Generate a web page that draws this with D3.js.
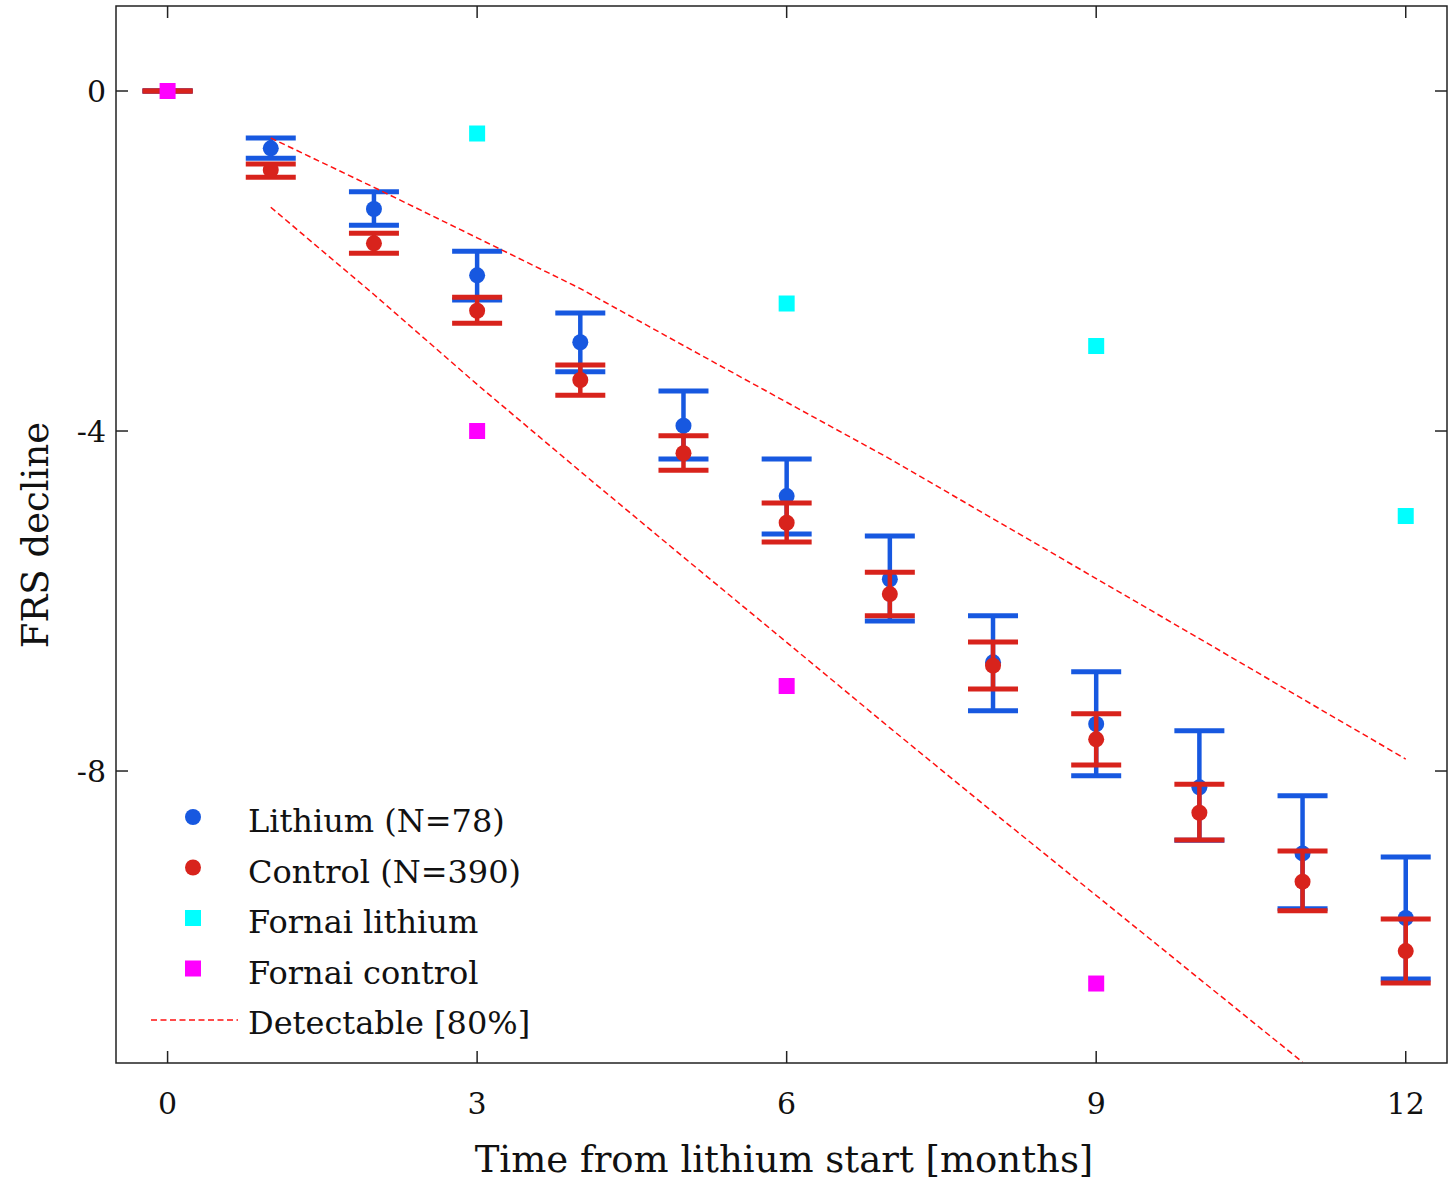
<!DOCTYPE html>
<html lang="en">
<head>
<meta charset="UTF-8">
<title>FRS decline</title>
<style>
  body { margin: 0; background: #fff; }
  svg text { font-family: "DejaVu Serif", serif; fill: #111; }
</style>
</head>
<body>
<svg id="chart" width="1449" height="1183"></svg>
<script src="https://cdn.jsdelivr.net/npm/d3@7"></script>
<script>
// months
var months = [0, 1, 2, 3, 4, 5, 6, 7, 8, 9, 10, 11, 12];

// lithium group (N=78)
var lithiumMean = [0, -0.674, -1.388, -2.168, -2.956, -3.937, -4.765, -5.744, -6.721, -7.447, -8.192, -8.969, -9.729];
var lithiumHigh = [0, -0.553, -1.185, -1.886, -2.612, -3.529, -4.329, -5.235, -6.173, -6.832, -7.526, -8.290, -9.012];
var lithiumLow  = [0, -0.792, -1.580, -2.459, -3.302, -4.329, -5.212, -6.235, -7.290, -8.055, -8.815, -9.620, -10.447];

// control group (N=390)
var controlMean = [0, -0.929, -1.792, -2.585, -3.400, -4.262, -5.079, -5.918, -6.761, -7.627, -8.491, -9.302, -10.118];
var controlHigh = [0, -0.859, -1.674, -2.427, -3.224, -4.055, -4.847, -5.662, -6.482, -7.326, -8.156, -8.941, -9.741];
var controlLow  = [0, -1.015, -1.909, -2.733, -3.580, -4.462, -5.306, -6.173, -7.035, -7.929, -8.812, -9.644, -10.494];

// Fornai reference points
var fornaiMonths = [0, 3, 6, 9, 12];
var fornaiLithium = [null, -0.5, -2.5, -3.0, -5.0];
var fornaiControl = [0, -4.0, -7.0, -10.5, null];

// detectable difference band [80%]
var detectMonths = [1, 2, 3, 4, 5, 6, 7, 8, 9, 10, 11, 12];
var detectUpper = [-0.553, -1.133, -1.727, -2.324, -2.994, -3.662, -4.327, -5.032, -5.736, -6.442, -7.152, -7.859];
var detectLower = [-1.368, -2.394, -3.452, -4.475, -5.484, -6.486, -7.492, -8.484, -9.464, -10.445, -11.425];

var xTicks = [0, 3, 6, 9, 12];
var yTicks = [0, -4, -8];

var legendLabels = ["Lithium (N=78)", "Control (N=390)", "Fornai lithium", "Fornai control", "Detectable [80%]"];

var BLUE = "#1758e0", RED = "#d8231c", CYAN = "#00ffff", MAGENTA = "#ff00ff";

var svg = d3.select("#chart"),
    plotLeft = 116, plotRight = 1447, plotTop = 6, plotBottom = 1063;

var x = d3.scaleLinear().domain([-0.5, 12.4]).range([plotLeft, plotRight]),
    y = d3.scaleLinear().domain([1.0, -11.435]).range([plotTop, plotBottom]);

svg.append("defs").append("clipPath").attr("id", "clip")
  .append("rect")
    .attr("x", plotLeft).attr("y", plotTop)
    .attr("width", plotRight - plotLeft).attr("height", plotBottom - plotTop);

var plot = svg.append("g").attr("clip-path", "url(#clip)");

function errorGroup(means, highs, lows, color) {
  var data = months.map(function(m, i) {
    return { m: m, mean: means[i], hi: highs[i], lo: lows[i] };
  });
  var g = plot.append("g");
  g.selectAll(".stem").data(data).enter().append("line")
    .attr("x1", function(d) { return x(d.m); })
    .attr("x2", function(d) { return x(d.m); })
    .attr("y1", function(d) { return y(d.hi); })
    .attr("y2", function(d) { return y(d.lo); })
    .attr("stroke", color).attr("stroke-width", 4.5);
  ["hi", "lo"].forEach(function(k) {
    g.selectAll(".cap-" + k).data(data).enter().append("line")
      .attr("x1", function(d) { return x(d.m) - 25; })
      .attr("x2", function(d) { return x(d.m) + 25; })
      .attr("y1", function(d) { return y(d[k]); })
      .attr("y2", function(d) { return y(d[k]); })
      .attr("stroke", color).attr("stroke-width", 5);
  });
  g.selectAll("circle").data(data.filter(function(d) { return d.m > 0; })).enter().append("circle")
    .attr("cx", function(d) { return x(d.m); })
    .attr("cy", function(d) { return y(d.mean); })
    .attr("r", 8)
    .attr("fill", color);
}

errorGroup(lithiumMean, lithiumHigh, lithiumLow, BLUE);
errorGroup(controlMean, controlHigh, controlLow, RED);

var line = d3.line()
  .x(function(d) { return x(d[0]); })
  .y(function(d) { return y(d[1]); });

[detectUpper, detectLower].forEach(function(vals) {
  plot.append("path")
    .attr("d", line(vals.map(function(v, i) { return [detectMonths[i], v]; })))
    .attr("fill", "none")
    .attr("stroke", "#ff1010")
    .attr("stroke-width", 1.5)
    .attr("stroke-dasharray", "6,3.5");
});

function squares(vals, color) {
  var data = fornaiMonths.map(function(m, i) { return { m: m, v: vals[i] }; })
    .filter(function(d) { return d.v !== null; });
  plot.selectAll(null).data(data).enter().append("rect")
    .attr("x", function(d) { return x(d.m) - 8; })
    .attr("y", function(d) { return y(d.v) - 8; })
    .attr("width", 16).attr("height", 16)
    .attr("fill", color);
}
squares(fornaiLithium, CYAN);
squares(fornaiControl, MAGENTA);

// frame + ticks (all inward)
svg.append("rect")
  .attr("x", plotLeft).attr("y", plotTop)
  .attr("width", plotRight - plotLeft).attr("height", plotBottom - plotTop)
  .attr("fill", "none").attr("stroke", "#222").attr("stroke-width", 1.5);

var ticks = svg.append("g").attr("stroke", "#222").attr("stroke-width", 1.5);
xTicks.forEach(function(t) {
  ticks.append("line").attr("x1", x(t)).attr("x2", x(t)).attr("y1", plotBottom).attr("y2", plotBottom - 12);
  ticks.append("line").attr("x1", x(t)).attr("x2", x(t)).attr("y1", plotTop).attr("y2", plotTop + 12);
});
yTicks.forEach(function(t) {
  ticks.append("line").attr("x1", plotLeft).attr("x2", plotLeft + 12).attr("y1", y(t)).attr("y2", y(t));
  ticks.append("line").attr("x1", plotRight).attr("x2", plotRight - 12).attr("y1", y(t)).attr("y2", y(t));
});

svg.selectAll(".xlab").data(xTicks).enter().append("text")
  .attr("x", function(d) { return x(d); })
  .attr("y", 1114)
  .attr("text-anchor", "middle")
  .attr("font-size", 30)
  .text(function(d) { return d; });

svg.selectAll(".ylab").data(yTicks).enter().append("text")
  .attr("x", 106)
  .attr("y", function(d) { return y(d) + 11; })
  .attr("text-anchor", "end")
  .attr("font-size", 30)
  .text(function(d) { return d === 0 ? "0" : "-" + Math.abs(d); });

svg.append("text")
  .attr("x", 784).attr("y", 1172)
  .attr("text-anchor", "middle")
  .attr("font-size", 37)
  .text("Time from lithium start [months]");

svg.append("text")
  .attr("transform", "translate(48,535) rotate(-90)")
  .attr("text-anchor", "middle")
  .attr("font-size", 37)
  .text("FRS decline");

// legend
var legend = svg.append("g");
legendLabels.forEach(function(label, i) {
  var cy = 817 + i * 50.5;
  if (i < 2) {
    legend.append("circle").attr("cx", 193).attr("cy", cy).attr("r", 8)
      .attr("fill", i === 0 ? BLUE : RED);
  } else if (i < 4) {
    legend.append("rect").attr("x", 185).attr("y", cy - 8).attr("width", 16).attr("height", 16)
      .attr("fill", i === 2 ? CYAN : MAGENTA);
  } else {
    legend.append("line").attr("x1", 151).attr("x2", 238).attr("y1", cy + 1).attr("y2", cy + 1)
      .attr("stroke", "#ff1010").attr("stroke-width", 1.5).attr("stroke-dasharray", "6,3.5");
  }
  legend.append("text")
    .attr("x", 248).attr("y", cy + 15)
    .attr("font-size", 32)
    .text(label);
});
</script>
</body>
</html>
